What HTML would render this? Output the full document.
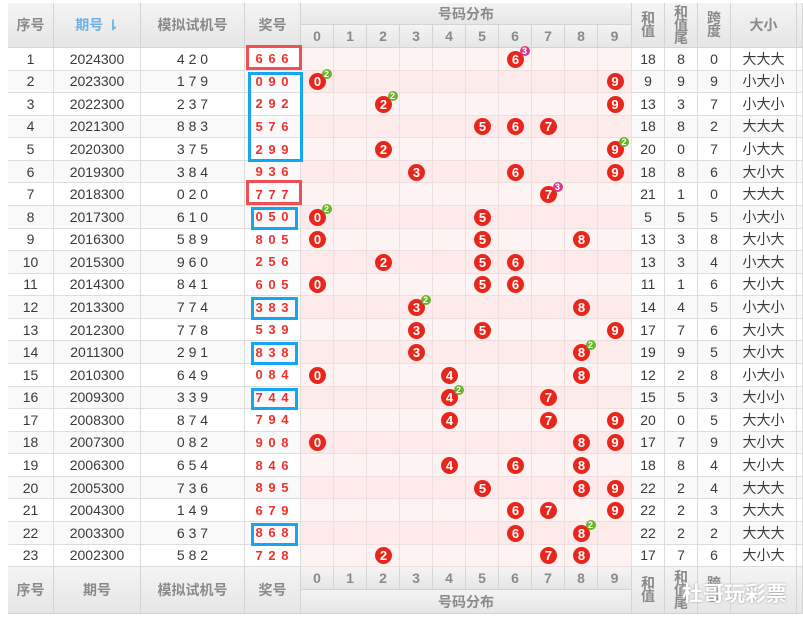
<!DOCTYPE html>
<html><head><meta charset="utf-8">
<style>
body{margin:0;width:803px;height:619px;background:#fff;overflow:hidden;position:relative;font-family:"Liberation Sans","Noto Sans CJK SC",sans-serif;}
.c{position:absolute;box-sizing:border-box;display:flex;align-items:center;justify-content:center;}
.h{background:linear-gradient(#f4f4f4,#e6e6e6);color:#8a8a8a;font-weight:bold;font-size:14px;border-right:1px solid #d4d4d4;border-bottom:1px solid #d4d4d4;}
.d{font-size:14px;color:#3a3a3a;border-right:1px solid #ddd;border-bottom:1px solid #ddd;}
.ball{position:absolute;width:17px;height:17px;border-radius:50%;background:#e8261c;color:#fff;font-size:13px;font-weight:bold;display:flex;align-items:center;justify-content:center;}
.badge{position:absolute;width:10px;height:10px;border-radius:50%;color:#fff;font-size:9px;font-weight:bold;display:flex;align-items:center;justify-content:center;}
.box{position:absolute;box-sizing:border-box;border:3px solid;}
</style></head>
<body>
<div id="root"></div>
<div class="c" style="left:672px;top:578px;width:125px;height:30px;color:#fff;font-size:21px;font-weight:bold;text-shadow:0 0 2px #999;">杜哥玩彩票</div>
<script>
const periods=["2024300","2023300","2022300","2021300","2020300","2019300","2018300","2017300","2016300","2015300","2014300","2013300","2012300","2011300","2010300","2009300","2008300","2007300","2006300","2005300","2004300","2003300","2002300"];
const sims=["4 2 0","1 7 9","2 3 7","8 8 3","3 7 5","3 8 4","0 2 0","6 1 0","5 8 9","9 6 0","8 4 1","7 7 4","7 7 8","2 9 1","6 4 9","3 3 9","8 7 4","0 8 2","6 5 4","7 3 6","1 4 9","6 3 7","5 8 2"];
const prizes=["666","090","292","576","299","936","777","050","805","256","605","383","539","838","084","744","794","908","846","895","679","868","728"];
const sums=[18,9,13,18,20,18,21,5,13,13,11,14,17,19,12,15,20,17,18,22,22,22,17];
const tails=[8,9,3,8,0,8,1,5,3,3,1,4,7,9,2,5,0,7,8,2,2,2,7];
const spans=[0,9,7,2,7,6,0,5,8,4,6,5,6,5,8,3,5,9,4,4,3,2,6];
const sizes=["大大大","小大小","小大小","大大大","小大大","大小大","大大大","小大小","大小大","小大大","大小大","小大小","大小大","大小大","小大小","大小小","大大小","大小大","大小大","大大大","大大大","大大大","大小大"];
const redBoxes=[[1,1],[7,7]];
const blueBoxes=[[2,5],[8,8],[12,12],[14,14],[16,16],[22,22]];

const root=document.getElementById('root');
const X=[8,54,141,245,301,334,367,400,433,466,499,532,565,598,632,665,698,731,797,803];
const top0=48,RH=22.57,FT=567;
function rowY(i){return top0+i*RH;}
function cell(x,y,w,h,cls,txt,extra){const e=document.createElement('div');e.className='c '+cls;e.style.cssText=`left:${x}px;top:${y}px;width:${w}px;height:${h}px;`+(extra||'');e.textContent=txt;root.appendChild(e);return e;}

let e;
e=cell(8,3,46,45,'h','序号');
e=cell(54,3,87,45,'h','期号 ⇂','color:#6fb0ea;');
e=cell(141,3,104,45,'h','模拟试机号');
e=cell(245,3,56,45,'h','奖号');
e=cell(301,3,331,22,'h','号码分布');
for(let d=0;d<10;d++){e=cell(X[4+d],25,X[5+d]-X[4+d],23,'h',String(d));}
const rh=[["和<br>值",'header-sum'],["和<br>值<br>尾",'header-sum-tail'],["跨<br>度",'header-span']];
rh.forEach((r,k)=>{e=cell(X[14+k],3,33,45,'h','','line-height:13px;text-align:center;');e.innerHTML=r[0];});
e=cell(731,3,66,45,'h','大小');
e=cell(797,3,6,45,'h','');

for(let i=0;i<periods.length;i++){
  const y=rowY(i),h=RH,alt=i%2==1;
  const bg=alt?'background:#f9f9f9;':'background:#fff;';
  const row=[String(i+1),periods[i],sims[i]];
  const nm=['index','period','sim'];
  for(let k=0;k<3;k++){e=cell(X[k],y,X[k+1]-X[k],h,'d',row[k],bg);}
  e=cell(245,y,56,h,'d',prizes[i].split('').join(' '),bg+'color:#f0302a;font-weight:bold;font-size:13px;letter-spacing:1px;');
  
  for(let d=0;d<10;d++){e=cell(X[4+d],y,X[5+d]-X[4+d],h,'d','',(alt?'background:#fdeaea;':'background:#fef3f3;')+'border-right:1px solid #f0dede;border-bottom:1px solid #f0dede;');}
  const tail=[sums[i],tails[i],spans[i]];const tn=['sum','sum-tail','span'];
  for(let k=0;k<3;k++){e=cell(X[14+k],y,33,h,'d',String(tail[k]),bg);}
  e=cell(731,y,66,h,'d',sizes[i],bg);
  e=cell(797,y,6,h,'d','',bg);
  const counts={};prizes[i].split('').forEach(c=>counts[c]=(counts[c]||0)+1);
  Object.keys(counts).forEach(c=>{
    const d=+c;const cx=X[4+d]+(X[5+d]-X[4+d])/2,cy=y+h/2;
    const b=document.createElement('div');b.className='ball';b.textContent=c;
    b.style.left=(cx-8.5)+'px';b.style.top=(cy-8.5)+'px';
    
    
    root.appendChild(b);
    if(counts[c]>1){const g=document.createElement('div');g.className='badge';g.textContent=counts[c];
      g.style.left=(cx+4)+'px';g.style.top=(cy-13)+'px';g.style.background=counts[c]==3?'#d8398c':'#67b52a';
      
      
      root.appendChild(g);}
  });
}
redBoxes.forEach(([a,b])=>{const bx=document.createElement('div');bx.className='box';bx.style.borderColor='#ef4f55';
  bx.style.cssText+=`left:246px;top:${rowY(a-1)-3}px;width:56px;height:${rowY(b)-rowY(a-1)+2}px;`;
  
  
  root.appendChild(bx);});
blueBoxes.forEach(([a,b])=>{const bx=document.createElement('div');bx.className='box';bx.style.borderColor='#14a6f0';
  const wide=(a!=b);
  bx.style.cssText+=`left:${wide?248:251}px;top:${rowY(a-1)+1}px;width:${wide?55:47}px;height:${rowY(b)-rowY(a-1)}px;`;
  
  
  root.appendChild(bx);});

const fy=FT;
e=cell(8,fy,46,47,'h','序号');
e=cell(54,fy,87,47,'h','期号');
e=cell(141,fy,104,47,'h','模拟试机号');
e=cell(245,fy,56,47,'h','奖号');
for(let d=0;d<10;d++){e=cell(X[4+d],fy,X[5+d]-X[4+d],23,'h',String(d));}
e=cell(301,fy+23,331,24,'h','号码分布');
rh.forEach((r,k)=>{e=cell(X[14+k],fy,33,47,'h','','line-height:13px;text-align:center;');e.innerHTML=r[0];});
e=cell(731,fy,66,47,'h','');
e=cell(797,fy,6,47,'h','');
</script>
</body></html>
